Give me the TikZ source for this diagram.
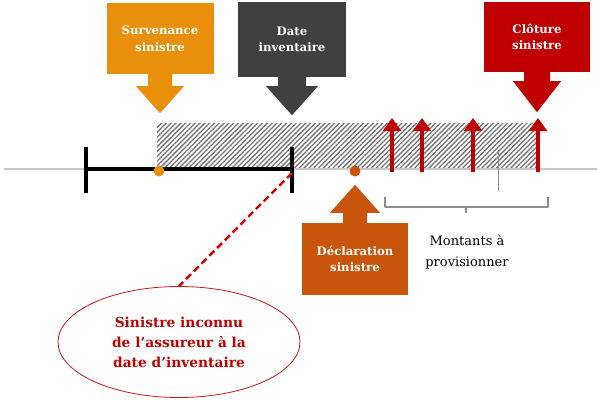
\documentclass[tikz,border=0pt]{standalone}
\usepackage{fontspec}
\setmainfont{DejaVu Serif}
\usetikzlibrary{patterns.meta,shapes.geometric,calc,arrows.meta}
\definecolor{survorange}{HTML}{E8900C}
\definecolor{invgray}{HTML}{404040}
\definecolor{closered}{HTML}{C00000}
\definecolor{declorange}{HTML}{C9550C}
\definecolor{axisgray}{HTML}{C8C8C8}
\definecolor{bracketgray}{HTML}{8C8C8C}
\definecolor{dashred}{HTML}{D40000}

\begin{document}
\begin{tikzpicture}[x=1pt,y=-1pt,
  evtbox/.style={rectangle,inner sep=0pt,text=white,align=center,
    font=\bfseries\fontsize{11.7}{16.5}\selectfont},
  evtmark/.style={circle,inner sep=0pt,minimum size=11pt},
  amount/.style={draw=closered,line width=3.4pt,-{Triangle[width=18pt,length=13pt]}},
  bracket/.style={draw=bracketgray,line width=1.8pt,line join=round}]
\useasboundingbox (0,0) rectangle (597,400);

% hatched period after occurrence
\fill[pattern={Lines[angle=45,distance=3.4pt,line width=1.3pt]},pattern color=gray!90!black]
  (157,123) rectangle (537,169);

% time axis
\draw[axisgray,line width=1.2pt] (4,169) -- (597,169);

% known interval
\coordinate (ia) at (86,169);
\coordinate (ib) at (292,169);
\draw[line width=4pt] (ia) -- (ib);
\draw[line width=4pt] (86,147) -- (86,193);
\draw[line width=4pt] (292,147) -- (292,193);

% event boxes
\node[evtbox,fill=survorange,minimum width=107pt,minimum height=71pt] (surv) at (160,38.5) {Survenance\\sinistre};
\node[evtbox,fill=invgray,minimum width=108pt,minimum height=75pt] (inv) at (292,39.5) {Date\\inventaire};
\node[evtbox,fill=closered,minimum width=106pt,minimum height=70pt] (clot) at (537,37) {Clôture\\sinistre};
\node[evtbox,fill=declorange,minimum width=106pt,minimum height=72pt] (decl) at (355,259) {Déclaration\\sinistre};

% their arrows
\fill[survorange] ($(surv.south)+(-12,-1)$) -- ++(0,13) -- ++(-12,0) -- ++(24,27) -- ++(24,-27) -- ++(-12,0) -- ++(0,-13) -- cycle;
\fill[invgray] ($(inv.south)+(-14,-1)$) -- ++(0,10) -- ++(-12,0) -- ++(26,29) -- ++(26,-29) -- ++(-12,0) -- ++(0,-10) -- cycle;
\fill[closered] ($(clot.south)+(-13,-1)$) -- ++(0,10) -- ++(-11,0) -- ++(24,31) -- ++(24,-31) -- ++(-11,0) -- ++(0,-10) -- cycle;
\fill[declorange] ($(decl.north)+(-12,1)$) -- ++(0,-11) -- ++(-13,0) -- ++(25,-28) -- ++(25,28) -- ++(-13,0) -- ++(0,11) -- cycle;

% event markers on the axis
\node[evtmark,fill=survorange] (m1) at (159,171) {};
\node[evtmark,fill=declorange] (m2) at (355,171) {};

% payments to reserve
\coordinate (p1) at (392,172); \coordinate (q1) at (392,118);
\coordinate (p2) at (422,172); \coordinate (q2) at (422,118);
\coordinate (p3) at (473,172); \coordinate (q3) at (473,118);
\coordinate (p4) at (538,172); \coordinate (q4) at (538,118);
\draw[amount] (p1) -- (q1);
\draw[amount] (p2) -- (q2);
\draw[amount] (p3) -- (q3);
\draw[amount] (p4) -- (q4);

% thin marker
\draw[bracketgray,line width=1pt] (498,150) -- (498,191);

% brace over the amounts
\draw[bracket] (385,197) -- (385,207) -- (548,207) -- (548,197);
\draw[bracket] (466,207) -- (466,213);
\node[align=center,font=\fontsize{13}{21}\selectfont] (mont) at (467,252) {Montants à\\provisionner};

% unknown claim callout
\node[ellipse,draw=closered!90,line width=0.8pt,minimum width=242pt,minimum height=111pt,
  text=closered,align=center,font=\bfseries\fontsize{13.8}{20}\selectfont] (unk) at (179,342)
  {Sinistre inconnu\\de l’assureur à la\\date d’inventaire};
\draw[dashred,line width=2.4pt,dash pattern=on 7pt off 4pt] (ib) ++(0,4) coordinate (ds) -- (unk.north);
\end{tikzpicture}
\end{document}
